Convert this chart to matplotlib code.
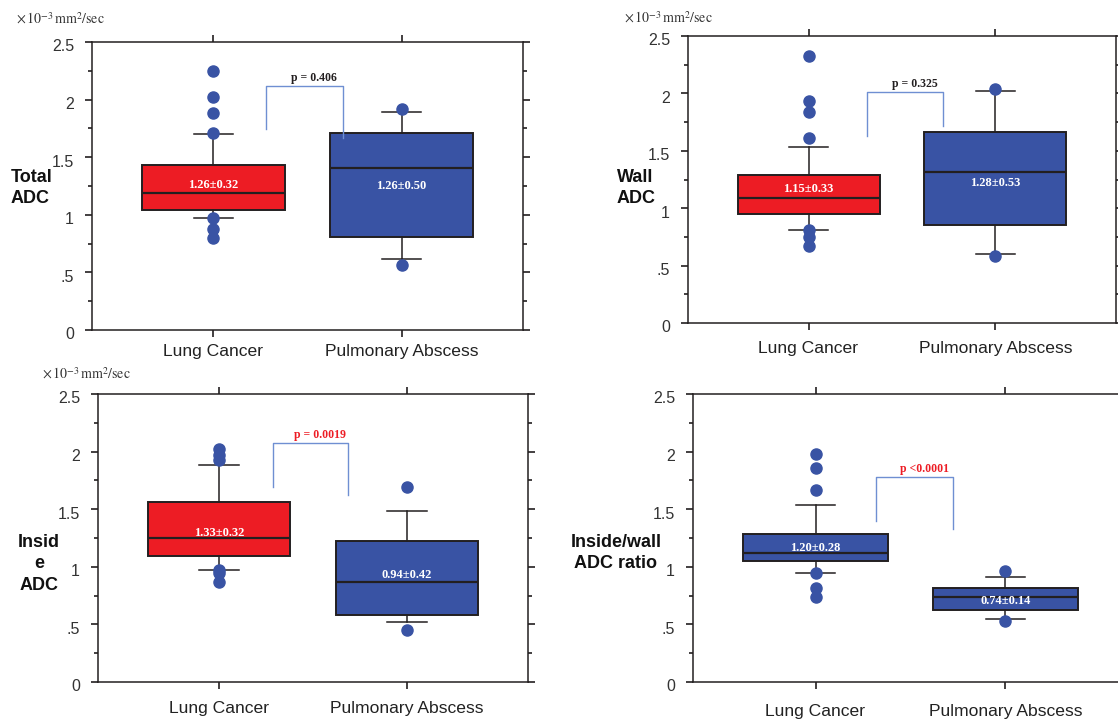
import matplotlib
matplotlib.use("Agg")
import matplotlib.pyplot as plt
import matplotlib.transforms as mtransforms
from matplotlib import font_manager
from matplotlib.ticker import MultipleLocator

plt.rcParams['font.family'] = ['Liberation Sans', 'DejaVu Sans']
plt.rcParams['mathtext.fontset'] = 'stix'

installed = {f.name for f in font_manager.fontManager.ttflist}
NARROW = 'Liberation Sans Narrow' if 'Liberation Sans Narrow' in installed else 'Liberation Sans'
SERIF = ['Liberation Serif', 'DejaVu Serif']

categories = ["Lung Cancer", "Pulmonary Abscess"]
ytick_labels = ["0", ".5", "1", "1.5", "2", "2.5"]

# Total ADC
total_q1 = [1.04, 0.81]
total_med = [1.19, 1.41]
total_q3 = [1.43, 1.71]
total_lo = [0.97, 0.62]
total_hi = [1.70, 1.89]
total_out = [[2.25, 2.02, 1.88, 1.71, 0.97, 0.875, 0.795], [1.92, 0.56]]
total_txt = ["1.26\u00b10.32", "1.26\u00b10.50"]
total_txt_y = [1.26, 1.25]
total_bracket = [1.745, 2.115, 1.665]
total_p = "p = 0.406"

# Wall ADC
wall_q1 = [0.947, 0.857]
wall_med = [1.089, 1.315]
wall_q3 = [1.289, 1.663]
wall_lo = [0.808, 0.597]
wall_hi = [1.535, 2.019]
wall_out = [[2.33, 1.93, 1.835, 1.615, 0.81, 0.745, 0.675], [2.04, 0.58]]
wall_txt = ["1.15\u00b10.33", "1.28\u00b10.53"]
wall_txt_y = [1.167, 1.22]
wall_bracket = [1.63, 2.008, 1.718]
wall_p = "p = 0.325"

# Inside ADC
inside_q1 = [1.091, 0.584]
inside_med = [1.247, 0.871]
inside_q3 = [1.56, 1.221]
inside_lo = [0.972, 0.518]
inside_hi = [1.887, 1.481]
inside_out = [[2.02, 1.97, 1.925, 0.972, 0.943, 0.868], [1.69, 0.455]]
inside_txt = ["1.33\u00b10.32", "0.94\u00b10.42"]
inside_txt_y = [1.296, 0.929]
inside_bracket = [1.696, 2.072, 1.623]
inside_p = "p = 0.0019"

# Inside/wall ratio
ratio_q1 = [1.05, 0.622]
ratio_med = [1.12, 0.738]
ratio_q3 = [1.288, 0.819]
ratio_lo = [0.949, 0.544]
ratio_hi = [1.536, 0.909]
ratio_out = [[1.976, 1.86, 1.664, 0.949, 0.819, 0.738], [0.964, 0.532]]
ratio_txt = ["1.20\u00b10.28", "0.74\u00b10.14"]
ratio_txt_y = [1.163, 0.706]
ratio_bracket = [1.40, 1.777, 1.325]
ratio_p = "p <0.0001"

RED = "#ed1c24"
BLUE = "#3953a4"
DARK = "#231f20"
LINK = "#6f8fd2"

W, H = 1118, 722
fig = plt.figure(figsize=(W / 100, H / 100), dpi=100)


def px_axes(left, right, top, bottom):
    return fig.add_axes([left / W, 1 - bottom / H, (right - left) / W, (bottom - top) / H])


def draw_panel(ax, q1, med, q3, lo, hi, out, txt, txt_y, bracket, br_x, p, p_color,
               box_colors, xpad):
    stats = []
    for i in range(2):
        stats.append(dict(q1=q1[i], med=med[i], q3=q3[i], whislo=lo[i],
                          whishi=hi[i], fliers=out[i]))
    bp = ax.bxp(stats, positions=[1, 2], widths=0.76, capwidths=0.21,
                patch_artist=True,
                boxprops=dict(edgecolor=DARK, linewidth=1.4),
                medianprops=dict(color=DARK, linewidth=1.6),
                whiskerprops=dict(color=DARK, linewidth=1.1),
                capprops=dict(color=DARK, linewidth=1.1),
                flierprops=dict(marker='o', markersize=8, markerfacecolor=BLUE,
                                markeredgecolor=BLUE, linestyle='none', zorder=5))
    for patch, c in zip(bp['boxes'], box_colors):
        patch.set_facecolor(c)

    for i in range(2):
        ax.text(i + 1, txt_y[i], txt[i], color='white', fontsize=9,
                fontweight='bold', family=SERIF, ha='center', va='center', zorder=6)

    # significance bracket
    ax.plot([br_x[0], br_x[0], br_x[1], br_x[1]],
            [bracket[0], bracket[1], bracket[1], bracket[2]],
            color=LINK, linewidth=1.0)
    ax.text((br_x[0] + br_x[1]) / 2 + 0.05, bracket[1] + 0.02, p, color=p_color,
            fontsize=8.5, fontweight='bold', family=SERIF, ha='center', va='bottom')

    ax.set_xlim(0.355, 2.645)
    ax.set_ylim(0, 2.5)
    ax.set_xticks([1, 2], categories, fontsize=12.6)
    ax.set_yticks([0, 0.5, 1, 1.5, 2, 2.5], ytick_labels)
    ax.yaxis.set_minor_locator(MultipleLocator(0.25))
    ax.tick_params(axis='both', which='both', direction='out', top=True, right=True,
                   color=DARK)
    ax.tick_params(which='major', length=5, width=1.2)
    ax.tick_params(which='minor', length=3, width=1.2)
    ax.tick_params(axis='x', pad=xpad, labelcolor='#222222')
    ax.tick_params(axis='y', pad=8, labelsize=11.5, labelcolor='#333333')
    offset = mtransforms.ScaledTranslation(0, -2.5 / 72, fig.dpi_scale_trans)
    for lbl in ax.get_yticklabels():
        lbl.set_family(NARROW)
        lbl.set_transform(lbl.get_transform() + offset)
    for s in ax.spines.values():
        s.set_color(DARK)
        s.set_linewidth(1.1)


ax1 = px_axes(92, 523, 42, 330)
draw_panel(ax1, total_q1, total_med, total_q3, total_lo, total_hi, total_out,
           total_txt, total_txt_y, total_bracket, [1.282, 1.689], total_p, DARK,
           [RED, BLUE], 5)

ax2 = px_axes(688, 1116, 36, 323)
draw_panel(ax2, wall_q1, wall_med, wall_q3, wall_lo, wall_hi, wall_out,
           wall_txt, wall_txt_y, wall_bracket, [1.314, 1.722], wall_p, DARK,
           [RED, BLUE], 8)

ax3 = px_axes(98, 528, 394, 682)
draw_panel(ax3, inside_q1, inside_med, inside_q3, inside_lo, inside_hi, inside_out,
           inside_txt, inside_txt_y, inside_bracket, [1.286, 1.689], inside_p, RED,
           [RED, BLUE], 8.5)

ax4 = px_axes(693, 1128, 394, 682)
draw_panel(ax4, ratio_q1, ratio_med, ratio_q3, ratio_lo, ratio_hi, ratio_out,
           ratio_txt, ratio_txt_y, ratio_bracket, [1.319, 1.726], ratio_p, RED,
           [BLUE, BLUE], 10.5)

# unit labels
unit = r"$\times\,10^{-3}\,\mathrm{mm}^{2}\mathrm{/sec}$"
for x, y in [(16, 19), (624, 18), (42, 374)]:
    fig.text(x / W, 1 - y / H, unit, fontsize=10, color='#333333', ha='left', va='center')

# y-axis titles
ylab = dict(fontsize=13, fontweight='bold', family=NARROW, color='#111111',
            va='center', linespacing=1.35)
fig.text(11 / W, 1 - 188 / H, "Total\nADC", ha='left', **ylab)
fig.text(617 / W, 1 - 188 / H, "Wall\nADC", ha='left', **ylab)
fig.text(39 / W, 1 - 564 / H, "Insid\ne\nADC", ha='center', multialignment='center', **ylab)
fig.text(616 / W, 1 - 553 / H, "Inside/wall\nADC ratio", ha='center',
         multialignment='center', **ylab)

fig.savefig("out.png", dpi=100)
